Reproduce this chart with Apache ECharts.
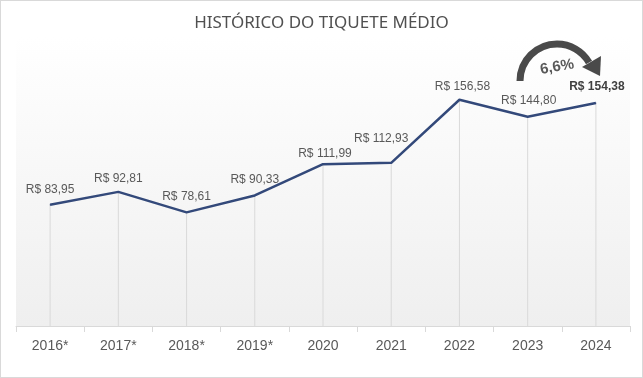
<!DOCTYPE html>
<html>
<head>
<meta charset="utf-8">
<script src="https://cdn.jsdelivr.net/npm/echarts@6/dist/echarts.min.js"></script>
<style>
    html, body { margin: 0; padding: 0; background: #fff; }
    #chart { width: 643px; height: 378px; box-sizing: border-box; border: 1px solid #d9d9d9; }
</style>
</head>
<body>
<div id="chart"></div>
<script>
// dados do gráfico
const anos = ["2016*", "2017*", "2018*", "2019*", "2020", "2021", "2022", "2023", "2024"];
const tiquete = [83.95, 92.81, 78.61, 90.33, 111.99, 112.93, 156.58, 144.80, 154.38];
// ajuste fino de cada rótulo (distância acima do ponto, deslocamento em x)
const rotuloDist = [9, 7, 9, 9, 4, 18, 7, 10, 10];
const rotuloDx = [0, 0, 0, 0, 2, -10, 3, 1, 1];
const variacao = "6,6%";

function fmt(v) {
    return "R$ " + v.toFixed(2).replace(".", ",");
}

let chart = echarts.init(document.getElementById("chart"), null, { renderer: "canvas" });

let lineData = tiquete.map(function(v, i) {
    let last = i === tiquete.length - 1;
    return {
        value: v,
        label: {
            show: true,
            distance: rotuloDist[i],
            fontWeight: last ? "bold" : "normal",
            color: last ? "#404040" : "#595959"
        }
    };
});

let option = {
    animation: false,
    title: {
        text: "HISTÓRICO DO TIQUETE MÉDIO",
        left: "center",
        top: 9,
        textStyle: {
            fontFamily: "Noto Sans",
            fontSize: 17,
            fontWeight: "normal",
            color: "#505050"
        }
    },
    grid: {
        left: 15,
        right: 12,
        top: 36,
        bottom: 51,
        show: true,
        borderWidth: 0,
        backgroundColor: {
            type: "linear", x: 0, y: 0, x2: 0, y2: 1,
            colorStops: [
                { offset: 0, color: "#ffffff" },
                { offset: 1, color: "#efefef" }
            ]
        }
    },
    xAxis: {
        type: "category",
        data: anos,
        boundaryGap: true,
        axisLine: { lineStyle: { color: "#d9d9d9", width: 1 } },
        axisTick: { show: true, length: 6, lineStyle: { color: "#d9d9d9" } },
        axisLabel: {
            margin: 13,
            fontFamily: "Liberation Sans",
            fontSize: 14,
            color: "#595959"
        },
        splitLine: { show: false }
    },
    yAxis: {
        type: "value",
        min: 0,
        max: 200,
        show: false,
        splitLine: { show: false }
    },
    series: [
        {
            // linhas verticais sob cada ponto
            type: "bar",
            data: tiquete,
            barWidth: 1,
            silent: true,
            itemStyle: { color: "#d9d9d9" },
            z: 1
        },
        {
            type: "line",
            data: lineData,
            symbol: "circle",
            symbolSize: 1,
            showSymbol: true,
            itemStyle: { color: "#33497a" },
            lineStyle: { color: "#33497a", width: 2.5 },
            label: {
                show: true,
                position: "top",
                fontFamily: "Liberation Sans",
                fontSize: 12,
                formatter: function(p) { return fmt(p.value); }
            },
            labelLayout: function(p) {
                return { dx: rotuloDx[p.dataIndex], hideOverlap: false };
            },
            z: 3
        }
    ],
    graphic: [
        {
            type: "arc",
            shape: { cx: 556, cy: 80, r: 37, startAngle: Math.PI, endAngle: Math.PI * 11 / 6, clockwise: true },
            style: { fill: null, stroke: "#4a4a4a", lineWidth: 7 },
            z: 10
        },
        {
            type: "polygon",
            shape: { points: [[600, 55], [581, 66], [599, 75]] },
            style: { fill: "#4a4a4a" },
            z: 10
        },
        {
            type: "text",
            x: 556,
            y: 66,
            rotation: 10 * Math.PI / 180,
            style: {
                text: variacao,
                align: "center",
                verticalAlign: "middle",
                fontFamily: "Liberation Sans",
                fontSize: 15,
                fontWeight: "bold",
                fill: "#595959"
            },
            z: 10
        }
    ]
};

chart.setOption(option, true);
window.onresize = () => {
    chart.resize();
};
</script>
</body>
</html>
